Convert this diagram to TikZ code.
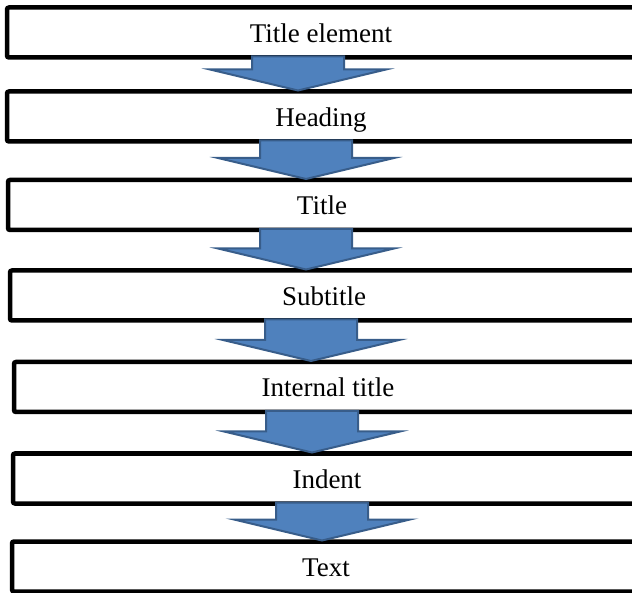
\documentclass[tikz,border=0pt]{standalone}
\usepackage{fontspec}
\setmainfont{Liberation Serif}
\usepackage{tikz}
\usetikzlibrary{calc}

\definecolor{arrowfill}{HTML}{4F81BD}
\definecolor{arrowline}{HTML}{385D8A}

\tikzset{
    stage/.style={draw, line width=4.5pt, rounded corners=2pt, outer sep=0pt,
        inner sep=0pt, minimum width=628pt, minimum height=50pt,
        text height=20pt, text depth=0pt, font=\fontsize{27}{30}\selectfont},
    flow/.style={fill=arrowfill, draw=arrowline, line width=2pt, line join=miter}
}

% block arrow from the bottom of #1 to the top of #2, shifted by #3
\newcommand{\blockarrow}[3]{%
    \path[flow] let \p1 = ($(#1.south)+(#3,0)$), \p2 = (#2.north) in
        (\x1-46pt, \y1+1pt) -- (\x1+46pt, \y1+1pt) -- (\x1+46pt, \y2+22pt)
        -- (\x1+88pt, \y2+22pt) -- (\x1, \y2+1pt) -- (\x1-88pt, \y2+22pt)
        -- (\x1-46pt, \y2+22pt) -- cycle;
}

\begin{document}
\begin{tikzpicture}[x=1pt,y=-1pt]
    \useasboundingbox (0,0) rectangle (632,593);
    \clip (0,0) rectangle (632,593);

    \foreach \name/\x/\y/\txt in {b1/321/32.5/Title element, b2/321/116.5/Heading,
            b3/322/205/Title, b4/324/295.5/Subtitle, b5/328/387/Internal title,
            b6/327/478.5/Indent, b7/326/566.5/Text}
        \node[stage] (\name) at (\x, \y) {\txt};

    \foreach \src/\dst/\dx in {b1/b2/-23, b2/b3/-15, b3/b4/-16,
            b4/b5/-13, b5/b6/-16, b6/b7/-5}
        \blockarrow{\src}{\dst}{\dx};
\end{tikzpicture}
\end{document}
